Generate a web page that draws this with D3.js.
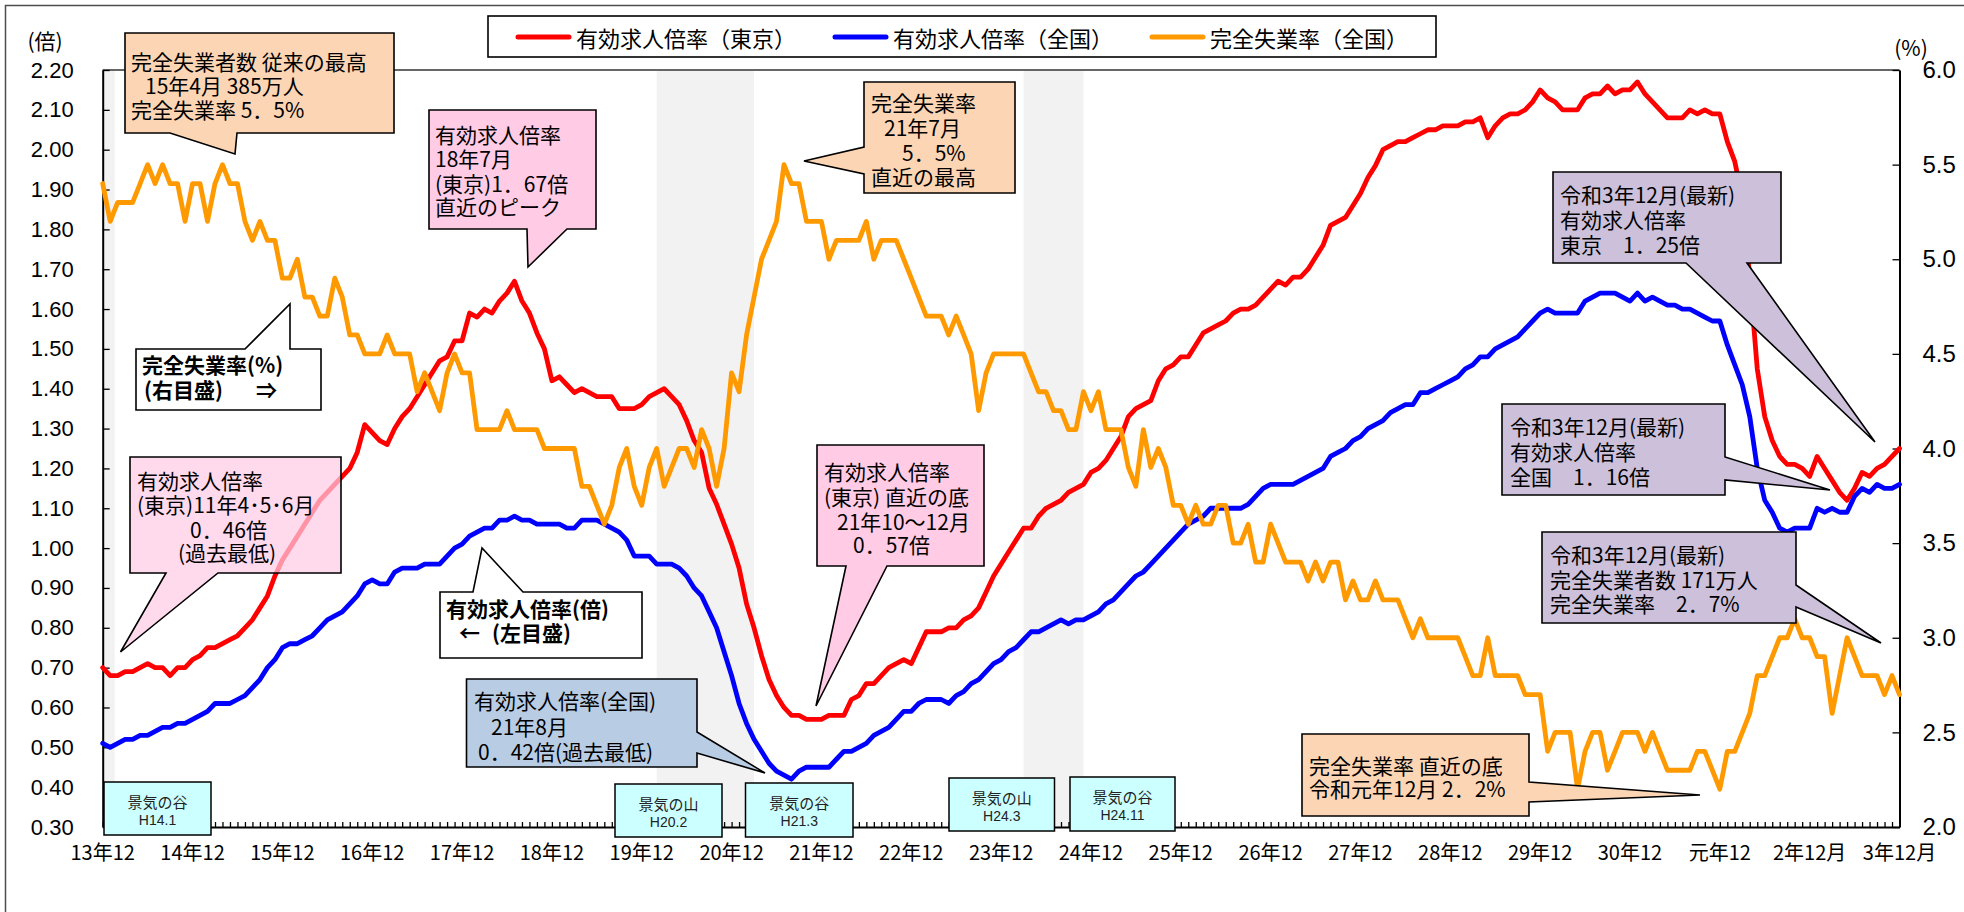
<!DOCTYPE html>
<html><head><meta charset="utf-8">
<script src="https://cdn.jsdelivr.net/npm/d3@7"></script>
<style>body{margin:0;background:#fff}svg{display:block}</style>
</head><body>
<svg id="c" width="1964" height="912"></svg>
<script>
// ---------- data ----------
// monthly, index 0 = H13(2001).12 ... index 240 = R3(2021).12
const xTickLabels = ["13年12","14年12","15年12","16年12","17年12","18年12","19年12","20年12","21年12","22年12",
  "23年12","24年12","25年12","26年12","27年12","28年12","29年12","30年12","元年12","2年12月","3年12月"];
const leftTicks = [0.30,0.40,0.50,0.60,0.70,0.80,0.90,1.00,1.10,1.20,1.30,1.40,1.50,1.60,1.70,1.80,1.90,2.00,2.10,2.20];
const rightTicks = [2.0,2.5,3.0,3.5,4.0,4.5,5.0,5.5,6.0];
const seriesNames = ["有効求人倍率（東京）","有効求人倍率（全国）","完全失業率（全国）"];

const tokyoRatio = [0.70,
 0.68,0.68,0.69,0.69,0.70,0.71,0.70,0.70,0.68,0.70,0.70,0.72,
 0.73,0.75,0.75,0.76,0.77,0.78,0.80,0.82,0.85,0.88,0.93,0.97,
 1.00,1.03,1.06,1.09,1.12,1.14,1.16,1.18,1.20,1.24,1.31,1.29,
 1.27,1.26,1.30,1.33,1.35,1.38,1.41,1.44,1.47,1.48,1.52,1.52,
 1.59,1.58,1.60,1.59,1.62,1.64,1.67,1.62,1.59,1.54,1.50,1.42,
 1.43,1.41,1.39,1.40,1.39,1.38,1.38,1.38,1.35,1.35,1.35,1.36,
 1.38,1.39,1.40,1.38,1.36,1.32,1.27,1.24,1.15,1.11,1.06,1.01,
 0.95,0.86,0.80,0.73,0.67,0.63,0.60,0.58,0.58,0.57,0.57,0.57,
 0.58,0.58,0.58,0.62,0.63,0.66,0.66,0.68,0.70,0.71,0.72,0.71,
 0.75,0.79,0.79,0.79,0.80,0.80,0.82,0.83,0.85,0.89,0.93,0.96,
 0.99,1.02,1.05,1.05,1.08,1.10,1.11,1.12,1.14,1.15,1.16,1.19,
 1.20,1.22,1.25,1.28,1.33,1.35,1.36,1.37,1.42,1.45,1.46,1.48,
 1.48,1.51,1.54,1.55,1.56,1.57,1.59,1.60,1.60,1.61,1.63,1.65,
 1.67,1.66,1.68,1.68,1.70,1.73,1.76,1.81,1.82,1.83,1.86,1.89,
 1.93,1.96,2.00,2.01,2.02,2.02,2.03,2.04,2.05,2.05,2.06,2.06,
 2.06,2.07,2.07,2.08,2.03,2.06,2.08,2.09,2.09,2.10,2.12,2.15,
 2.13,2.12,2.10,2.10,2.10,2.13,2.14,2.14,2.16,2.14,2.15,2.15,
 2.17,2.14,2.12,2.10,2.08,2.08,2.08,2.10,2.09,2.10,2.09,2.09,
 2.02,1.97,1.88,1.68,1.45,1.33,1.27,1.23,1.21,1.21,1.20,1.18,
 1.23,1.20,1.17,1.14,1.12,1.15,1.19,1.18,1.20,1.21,1.23,1.25];

const nationalRatio = [0.51,
 0.50,0.51,0.52,0.52,0.53,0.53,0.54,0.55,0.55,0.56,0.56,0.57,
 0.58,0.59,0.61,0.61,0.61,0.62,0.63,0.65,0.67,0.70,0.72,0.75,
 0.76,0.76,0.77,0.78,0.80,0.82,0.83,0.84,0.86,0.88,0.91,0.92,
 0.91,0.91,0.94,0.95,0.95,0.95,0.96,0.96,0.96,0.98,1.00,1.01,
 1.03,1.04,1.05,1.05,1.07,1.07,1.08,1.07,1.07,1.06,1.06,1.06,
 1.06,1.05,1.05,1.07,1.07,1.07,1.06,1.05,1.04,1.02,0.98,0.98,
 0.98,0.96,0.96,0.96,0.95,0.93,0.90,0.88,0.84,0.80,0.74,0.68,
 0.61,0.56,0.52,0.49,0.46,0.44,0.43,0.42,0.44,0.45,0.45,0.45,
 0.45,0.47,0.49,0.49,0.50,0.51,0.53,0.54,0.55,0.57,0.59,0.59,
 0.61,0.62,0.62,0.62,0.61,0.63,0.64,0.66,0.67,0.69,0.71,0.72,
 0.74,0.75,0.77,0.79,0.79,0.80,0.81,0.82,0.81,0.82,0.82,0.83,
 0.84,0.86,0.87,0.89,0.91,0.93,0.94,0.96,0.98,1.00,1.02,1.04,
 1.06,1.07,1.08,1.10,1.10,1.10,1.10,1.10,1.11,1.13,1.15,1.16,
 1.16,1.16,1.16,1.17,1.18,1.19,1.20,1.23,1.24,1.25,1.27,1.28,
 1.30,1.31,1.32,1.34,1.35,1.36,1.36,1.39,1.39,1.40,1.41,1.42,
 1.43,1.45,1.46,1.48,1.48,1.50,1.51,1.52,1.53,1.55,1.57,1.59,
 1.60,1.59,1.59,1.59,1.59,1.62,1.63,1.64,1.64,1.64,1.63,1.62,
 1.64,1.62,1.63,1.62,1.61,1.61,1.60,1.60,1.59,1.58,1.57,1.57,
 1.51,1.46,1.41,1.33,1.20,1.12,1.09,1.05,1.04,1.05,1.05,1.05,
 1.10,1.09,1.10,1.09,1.09,1.13,1.15,1.14,1.16,1.15,1.15,1.16];

const unemploymentRate = [5.4,
 5.2,5.3,5.3,5.3,5.4,5.5,5.4,5.5,5.4,5.4,5.2,5.4,
 5.4,5.2,5.4,5.5,5.4,5.4,5.2,5.1,5.2,5.1,5.1,4.9,
 4.9,5.0,4.8,4.8,4.7,4.7,4.9,4.8,4.6,4.6,4.5,4.5,
 4.5,4.6,4.5,4.5,4.5,4.3,4.4,4.3,4.2,4.4,4.5,4.4,
 4.4,4.1,4.1,4.1,4.1,4.2,4.1,4.1,4.1,4.1,4.0,4.0,
 4.0,4.0,4.0,3.8,3.8,3.7,3.6,3.7,3.9,4.0,3.8,3.7,
 3.9,4.0,3.8,3.9,4.0,4.0,3.9,4.1,4.0,3.8,4.0,4.4,
 4.3,4.6,4.8,5.0,5.1,5.2,5.5,5.4,5.4,5.2,5.2,5.2,
 5.0,5.1,5.1,5.1,5.1,5.2,5.0,5.1,5.1,5.1,5.0,4.9,
 4.8,4.7,4.7,4.7,4.6,4.7,4.6,4.5,4.2,4.4,4.5,4.5,
 4.5,4.5,4.5,4.4,4.3,4.3,4.2,4.2,4.1,4.1,4.3,4.2,
 4.3,4.1,4.1,4.1,3.9,3.8,4.1,3.9,4.0,3.9,3.7,3.7,
 3.6,3.7,3.6,3.6,3.7,3.7,3.5,3.5,3.6,3.4,3.4,3.6,
 3.5,3.4,3.4,3.4,3.3,3.4,3.3,3.4,3.4,3.2,3.3,3.2,
 3.2,3.3,3.2,3.2,3.2,3.1,3.0,3.1,3.0,3.0,3.0,3.0,
 3.0,2.9,2.8,2.8,3.0,2.8,2.8,2.8,2.8,2.7,2.7,2.7,
 2.4,2.5,2.5,2.5,2.2,2.4,2.5,2.5,2.3,2.4,2.5,2.5,
 2.5,2.4,2.5,2.4,2.3,2.3,2.3,2.3,2.4,2.4,2.3,2.2,
 2.4,2.4,2.5,2.6,2.8,2.8,2.9,3.0,3.0,3.1,3.0,3.0,
 2.9,2.9,2.6,2.8,3.0,2.9,2.8,2.8,2.8,2.7,2.8,2.7];

// recession shading (month index)
const recessionStart = [0, 74, 123];
const recessionEnd = [1.6, 87, 131];
// business-cycle turning point labels
const cycleNames = ["景気の谷","景気の山","景気の谷","景気の山","景気の谷"];
const cycleDates = ["H14.1","H20.2","H21.3","H24.3","H24.11"];

// ---------- layout ----------
const L = 102.7, R = 1899.5, T = 70, B = 827;
const svg = d3.select("#c");
const JP = "'Noto Sans CJK JP','Noto Sans',sans-serif";
const NUM = "'Liberation Sans',Arial,sans-serif";
const nMonths = tokyoRatio.length; // 241
const x = d3.scaleLinear().domain([0, nMonths - 1]).range([L, R]);
const yL = d3.scaleLinear().domain([0.3, 2.2]).range([B, T]);
const yR = d3.scaleLinear().domain([2.0, 6.0]).range([B, T]);

// outer frame
svg.append("rect").attr("x",5.5).attr("y",5.5).attr("width",1975).attr("height",925)
  .attr("fill","none").attr("stroke","#4d4d4d").attr("stroke-width",1.5);

// recession bands
svg.append("g").selectAll("rect").data(recessionStart).join("rect")
  .attr("x",(d)=>x(d)).attr("y",T+1)
  .attr("width",(d,i)=>x(recessionEnd[i])-x(d)).attr("height",B-T-1)
  .attr("fill","#f2f2f2");

// plot top border
svg.append("line").attr("x1",L).attr("x2",R).attr("y1",T).attr("y2",T)
  .attr("stroke","#333").attr("stroke-width",1.5);

// axes
const gL = svg.append("g").attr("transform",`translate(${L},0)`)
  .call(d3.axisLeft(yL).tickValues(leftTicks).tickFormat(d3.format(".2f"))
    .tickSizeInner(-7).tickSizeOuter(0).tickPadding(29));
const gR = svg.append("g").attr("transform",`translate(${R},0)`)
  .call(d3.axisRight(yR).tickValues(rightTicks).tickFormat(d3.format(".1f"))
    .tickSizeInner(-7).tickSizeOuter(0).tickPadding(23));
const gB = svg.append("g").attr("transform",`translate(0,${B})`)
  .call(d3.axisBottom(x).tickValues(d3.range(nMonths)).tickFormat("")
    .tickSizeInner(-5).tickSizeOuter(0));
[gL,gR,gB].forEach(g=>{
  g.select(".domain").attr("stroke","#000").attr("stroke-width",2);
  g.selectAll(".tick line").attr("stroke","#000").attr("stroke-width",1.3);
});
gL.attr("font-family",NUM).attr("font-size",22);
gL.selectAll("text").attr("fill","#000");
gR.attr("font-family",NUM).attr("font-size",24);
gR.selectAll("text").attr("fill","#000");

// x labels (every December)
svg.append("g").selectAll("text").data(xTickLabels).join("text")
  .attr("x",(d,i)=>x(i*12)).attr("y",851)
  .attr("text-anchor","middle").attr("dominant-baseline","central")
  .attr("font-family",JP).attr("font-size",20).attr("fill","#000")
  .text(d=>d);

// axis titles
svg.append("text").attr("x",45).attr("y",40).attr("text-anchor","middle").attr("dominant-baseline","central")
  .attr("font-family",JP).attr("font-size",21).text("(倍)");
svg.append("text").attr("x",1911).attr("y",47).attr("text-anchor","middle").attr("dominant-baseline","central")
  .attr("font-family",JP).attr("font-size",21).text("(%)");

// lines
const lineL = d3.line().x((d,i)=>x(i)).y(d=>yL(d));
const lineR = d3.line().x((d,i)=>x(i)).y(d=>yR(d));
const lineStyle = (p,c)=>p.attr("fill","none").attr("stroke",c).attr("stroke-width",4.8)
  .attr("stroke-linejoin","round").attr("stroke-linecap","round");
svg.append("path").datum(tokyoRatio).attr("d",lineL).call(lineStyle,"#ff0000");
svg.append("path").datum(nationalRatio).attr("d",lineL).call(lineStyle,"#0000ff");
svg.append("path").datum(unemploymentRate).attr("d",lineR).call(lineStyle,"#ff9900");

// business-cycle boxes
const cycBoxes = [[104,782,211,835],[615,784,722,837],[745.5,783,853,837],[949,778,1054.5,831],[1070,777,1175,831]];
const gc = svg.append("g");
cycBoxes.forEach((b,i)=>{
  gc.append("rect").attr("x",b[0]).attr("y",b[1]).attr("width",b[2]-b[0]).attr("height",b[3]-b[1])
    .attr("fill","#ccffff").attr("stroke","#000").attr("stroke-width",1.5);
  const cx=(b[0]+b[2])/2;
  const t = gc.append("text").attr("text-anchor","middle").attr("fill","#222").attr("font-family",JP);
  t.append("tspan").attr("x",cx).attr("y",b[1]+26).attr("font-size",15).text(cycleNames[i]);
  t.append("tspan").attr("x",cx).attr("y",b[1]+43).attr("font-size",14).attr("font-family",NUM).text(cycleDates[i]);
});

// callouts
function callout(c){
  const [x0,y0,x1,y1]=c.box, [b1,b2]=c.base, [tx,ty]=c.tip;
  let p;
  if(c.side==="top") p=`M${x0},${y0}L${b1},${y0}L${tx},${ty}L${b2},${y0}L${x1},${y0}L${x1},${y1}L${x0},${y1}Z`;
  else if(c.side==="right") p=`M${x0},${y0}L${x1},${y0}L${x1},${b1}L${tx},${ty}L${x1},${b2}L${x1},${y1}L${x0},${y1}Z`;
  else if(c.side==="bottom") p=`M${x0},${y0}L${x1},${y0}L${x1},${y1}L${b2},${y1}L${tx},${ty}L${b1},${y1}L${x0},${y1}Z`;
  else p=`M${x0},${y0}L${x1},${y0}L${x1},${y1}L${x0},${y1}L${x0},${b2}L${tx},${ty}L${x0},${b1}Z`;
  const g=svg.append("g");
  g.append("path").attr("d",p).attr("fill",c.fill).attr("fill-opacity",c.op||1)
    .attr("stroke","#000").attr("stroke-width",1.6).attr("stroke-linejoin","miter");
  const t = g.append("text").attr("font-family",JP).attr("font-size",c.fs||21)
    .attr("font-weight",c.bold?"bold":"normal").attr("fill","#000");
  c.lines.forEach(l=>{
    t.append("tspan").attr("x",l[1]).attr("y",l[2]+7.5).text(l[0]);
  });
}
const PEACH="#fcd5b4", PINK="#ffcbe5", BLUE="#b8cce4", PURPLE="#ccc0da";
callout({box:[125,33,394,133],side:"bottom",base:[170,237],tip:[235,154],fill:PEACH,
  lines:[["完全失業者数 従来の最高",131,62],["15年4月 385万人",145,86],["完全失業率 5．5%",131,110]]});
callout({box:[429,110,596,229],side:"bottom",base:[527,567],tip:[528,267],fill:PINK,
  lines:[["有効求人倍率",435,135],["18年7月",435,159],["(東京)1．67倍",435,184],["直近のピーク",435,207]]});
callout({box:[864,82,1015,193],side:"left",base:[147,174],tip:[804,161],fill:PEACH,
  lines:[["完全失業率",871,103],["21年7月",884,128],["5．5%",902,153],["直近の最高",871,177]]});
callout({box:[136,349,321,410],side:"top",base:[245,290],tip:[290,304],fill:"#fff",bold:true,
  lines:[["完全失業率(%)",142,365],["(右目盛)",144,390],["⇒",256,390]]});
callout({box:[130,457,341,573],side:"bottom",base:[166,218],tip:[120.5,652],fill:PINK,op:0.72,
  lines:[["有効求人倍率",137,481],["(東京)11年4･5･6月",137,505],["0．46倍",190,530],["(過去最低)",178,553]]});
callout({box:[440,592,642,658],side:"top",base:[473,523],tip:[482,548],fill:"#fff",bold:true,
  lines:[["有効求人倍率(倍)",446,609],["←",459,633],["(左目盛)",492,633]]});
callout({box:[466.5,679,697,767],side:"right",base:[732,753],tip:[765,773],fill:BLUE,
  lines:[["有効求人倍率(全国)",474,701],["21年8月",491,727],["0．42倍(過去最低)",478,752]]});
callout({box:[817,445,984,566],side:"bottom",base:[846,887],tip:[816,706],fill:PINK,
  lines:[["有効求人倍率",824,472],["(東京) 直近の底",824,497],["21年10〜12月",837,522],["0．57倍",853,545]]});
callout({box:[1553,172,1781,263],side:"bottom",base:[1686,1747],tip:[1875,442],fill:PURPLE,
  lines:[["令和3年12月(最新)",1560,195],["有効求人倍率",1560,220],["東京　1．25倍",1560,245]]});
callout({box:[1502,404,1725,495],side:"right",base:[457,480],tip:[1830,490],fill:PURPLE,
  lines:[["令和3年12月(最新)",1510,427],["有効求人倍率",1510,452],["全国　1．16倍",1510,477]]});
callout({box:[1542,532,1796,623],side:"right",base:[585,607],tip:[1881,643],fill:PURPLE,
  lines:[["令和3年12月(最新)",1550,555],["完全失業者数 171万人",1550,580],["完全失業率　2．7%",1550,604]]});
callout({box:[1302,734,1529,816],side:"right",base:[782,802],tip:[1700,795],fill:PEACH,
  lines:[["完全失業率 直近の底",1309,766],["令和元年12月 2．2%",1309,789]]});

// legend
const lg = svg.append("g");
lg.append("rect").attr("x",488).attr("y",16).attr("width",948).attr("height",41)
  .attr("fill","#fff").attr("stroke","#000").attr("stroke-width",1.6);
const legX = [518,835,1152], legC = ["#ff0000","#0000ff","#ff9900"];
seriesNames.forEach((n,i)=>{
  lg.append("line").attr("x1",legX[i]).attr("x2",legX[i]+51).attr("y1",37).attr("y2",37)
    .attr("stroke",legC[i]).attr("stroke-width",5).attr("stroke-linecap","round");
  lg.append("text").attr("x",legX[i]+58).attr("y",37).attr("dominant-baseline","central")
    .attr("font-family",JP).attr("font-size",22).attr("fill","#000").text(n);
});
</script>
</body></html>
